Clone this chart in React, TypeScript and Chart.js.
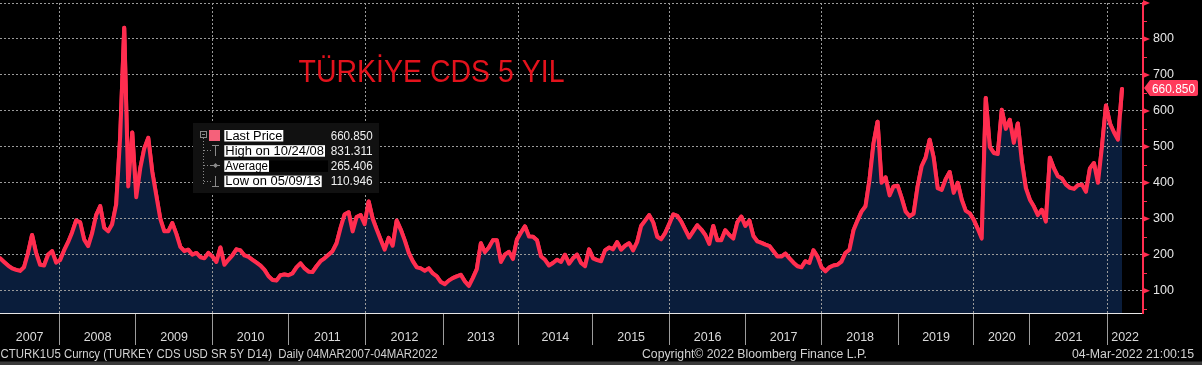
import React, { useEffect, useRef } from 'react';
import { Chart, registerables } from 'chart.js';

Chart.register(...registerables);

// TURKEY CDS USD SR 5Y — values at even steps along the time axis
const cdsValues: number[] = [
  190, 180, 170, 162, 158, 155, 165, 205, 255, 205,
  172, 170, 200, 210, 178, 185, 212, 235, 262, 295,
  290, 242, 224, 260, 310, 335, 275, 265, 285, 340,
  530, 831, 390, 540, 360, 440, 495, 525, 430, 365,
  300, 265, 265, 288, 258, 222, 210, 214, 200, 205,
  193, 190, 205, 195, 180, 220, 172, 186, 198, 215,
  212, 198, 194, 186, 178, 170, 158, 140, 130, 128,
  143, 145, 143, 148, 165, 176, 162, 153, 152, 168,
  182, 190, 200, 210, 232, 275, 312, 318, 265, 305,
  310, 285, 348, 300, 270, 242, 214, 247, 225, 295,
  270, 240, 205, 182, 165, 162, 155, 162, 148, 140,
  124, 118, 128, 135, 140, 144, 126, 113, 135, 160,
  232, 207, 220, 240, 240, 180, 200, 208, 188, 242,
  261, 279, 251, 250, 240, 195, 186, 170, 177, 186,
  180, 200, 175, 190, 200, 177, 168, 215, 190, 185,
  182, 212, 220, 215, 235, 214, 225, 232, 212, 235,
  280, 295, 310, 290, 250, 243, 260, 285, 312, 308,
  292, 270, 248, 265, 282, 270, 255, 230, 280, 240,
  240, 268, 255, 245, 290, 306, 280, 295, 252, 237,
  233, 228, 224, 210, 195, 195, 203, 190, 178, 168,
  165, 182, 177, 212, 195, 165, 154, 165, 170, 172,
  181, 205, 214, 268, 295, 320, 335, 409, 510, 570,
  400, 415, 365, 390, 392, 358, 320, 307, 314, 390,
  446, 470, 520, 470, 385, 380, 410, 430, 372, 400,
  353, 322, 315, 297, 272, 245, 636, 500, 483, 480,
  603, 550, 575, 511, 565, 460, 385, 353, 334, 310,
  325, 292, 470, 440, 418, 412, 395, 386, 383, 393,
  395, 375, 440, 455, 400, 500, 615, 565, 540, 520,
  660.85,
];

const yearLabels: string[] = [
  '2007', '2008', '2009', '2010', '2011', '2012', '2013', '2014',
  '2015', '2016', '2017', '2018', '2019', '2020', '2021', '2022',
];
// sample index at which each year from 2008 to 2022 begins
const yearStarts: number[] = [
  14.8, 33.9, 53.0, 72.1, 91.3, 110.6, 129.4, 147.8,
  167.2, 186.0, 205.1, 224.2, 243.0, 257.0, 276.3,
];
const xEnd = 285.24;

const yMin = 38;
const yMax = 900;
const yTickValues: number[] = [100, 200, 300, 400, 500, 600, 700, 800, 900];
const yTickLabels: string[] = ['100', '200', '300', '400', '500', '600', '700', '800', ''];
const yMinorValues: number[] = [50, 150, 250, 350, 450, 550, 650, 750, 850];

const legendLabels: string[] = ['Last Price', 'High on 10/24/08', 'Average', 'Low on 05/09/13'];
const legendValues: string[] = ['660.850', '831.311', '265.406', '110.946'];

const titleText = 'TÜRKİYE CDS 5 YIL';
const footerLeft = 'CTURK1U5 Curncy (TURKEY CDS USD SR 5Y D14)  Daily 04MAR2007-04MAR2022';
const footerMid = 'Copyright© 2022 Bloomberg Finance L.P.';
const footerRight = '04-Mar-2022 21:00:15';

const LINE = '#ff2d4f';
const FILL = '#0a1d3b';
const GRID = '#9a9a9a';
const FONT = '"Liberation Sans", Arial, sans-serif';

function fitText(
  ctx: CanvasRenderingContext2D,
  text: string,
  x: number,
  baseline: number,
  width: number,
  size: number,
  color: string,
) {
  ctx.save();
  ctx.font = `${size}px ${FONT}`;
  ctx.fillStyle = color;
  ctx.textBaseline = 'alphabetic';
  ctx.textAlign = 'left';
  const w = ctx.measureText(text).width || 1;
  ctx.translate(x, baseline);
  ctx.scale(width / w, 1);
  ctx.fillText(text, 0, 0);
  ctx.restore();
}

function noPadding(s: any) {
  s.paddingTop = 0;
  s.paddingBottom = 0;
  s.paddingLeft = 0;
  s.paddingRight = 0;
}

const backgroundPlugin = {
  id: 'bgPlugin',
  beforeDraw(chart: any) {
    const { ctx, width, height } = chart;
    ctx.save();
    ctx.fillStyle = '#000000';
    ctx.fillRect(0, 0, width, height);
    ctx.fillStyle = '#3a3a3a';
    ctx.fillRect(0, 361.5, width, height - 361.5);
    ctx.restore();
  },
};

const overlayPlugin = {
  id: 'overlayPlugin',
  afterDraw(chart: any) {
    const ctx: CanvasRenderingContext2D = chart.ctx;
    const yScale = chart.scales.y;
    const area = chart.chartArea;

    // red line again, above the dotted grid
    const meta = chart.getDatasetMeta(1);
    ctx.save();
    ctx.beginPath();
    ctx.rect(area.left, area.top - 4, area.right - area.left, area.bottom - area.top + 4);
    ctx.clip();
    meta.controller.draw();
    ctx.restore();

    // right axis markers
    const ax = area.right;
    ctx.save();
    ctx.fillStyle = LINE;
    ctx.strokeStyle = LINE;
    yTickValues.forEach((v) => {
      const py = yScale.getPixelForValue(v);
      ctx.beginPath();
      ctx.moveTo(ax, py - 3);
      ctx.lineTo(ax + 7, py);
      ctx.lineTo(ax, py + 3);
      ctx.closePath();
      ctx.fill();
    });
    ctx.lineWidth = 1;
    yMinorValues.forEach((v) => {
      const py = Math.round(yScale.getPixelForValue(v)) + 0.5;
      ctx.beginPath();
      ctx.moveTo(ax, py);
      ctx.lineTo(ax + 4, py);
      ctx.stroke();
    });
    ctx.restore();

    // last price tag
    const last = cdsValues[cdsValues.length - 1];
    const ty = yScale.getPixelForValue(last) - 1;
    ctx.save();
    ctx.fillStyle = '#ff3a5b';
    ctx.beginPath();
    ctx.moveTo(ax + 1, ty);
    ctx.lineTo(ax + 7, ty - 8);
    ctx.lineTo(1196, ty - 8);
    ctx.quadraticCurveTo(1198, ty - 8, 1198, ty - 6);
    ctx.lineTo(1198, ty + 6);
    ctx.quadraticCurveTo(1198, ty + 8, 1196, ty + 8);
    ctx.lineTo(ax + 7, ty + 8);
    ctx.closePath();
    ctx.fill();
    ctx.restore();
    fitText(ctx, last.toFixed(3), 1152, ty + 4.5, 43, 12.5, '#ffffff');

    // title
    fitText(ctx, titleText, 298.5, 81.7, 266, 31, '#e3121c');

    // legend box
    ctx.save();
    ctx.fillStyle = '#111111';
    ctx.fillRect(193, 123, 186, 70);
    const rowBase = [139.5, 154.7, 169.9, 185.1];
    const labelBoxW = [59, 100.7, 44.7, 97.4];
    ctx.fillStyle = '#000000';
    ctx.fillRect(269, rowBase[2] - 9.5, 59, 11.5);
    rowBase.forEach((b, r) => {
      ctx.fillStyle = '#ffffff';
      ctx.fillRect(224.3, b - 9.5, labelBoxW[r], 11.5);
    });
    ctx.fillStyle = '#f5617a';
    ctx.fillRect(209, 130, 11, 11);
    ctx.strokeStyle = '#8a8a8a';
    ctx.lineWidth = 1;
    ctx.strokeRect(200.5, 131.5, 6, 6);
    ctx.beginPath();
    ctx.moveTo(202, 134.5);
    ctx.lineTo(205, 134.5);
    ctx.stroke();
    ctx.setLineDash([1, 2]);
    ctx.beginPath();
    ctx.moveTo(203.5, 138);
    ctx.lineTo(203.5, 186);
    [150.5, 165.5, 181.5].forEach((cy) => {
      ctx.moveTo(204, cy);
      ctx.lineTo(211, cy);
    });
    ctx.stroke();
    ctx.setLineDash([]);
    ctx.beginPath();
    ctx.moveTo(212, 145.5);
    ctx.lineTo(219, 145.5);
    ctx.moveTo(215.5, 145.5);
    ctx.lineTo(215.5, 156);
    ctx.moveTo(211, 165.5);
    ctx.lineTo(220, 165.5);
    ctx.moveTo(215.5, 176);
    ctx.lineTo(215.5, 186.5);
    ctx.moveTo(212, 186.5);
    ctx.lineTo(219, 186.5);
    ctx.stroke();
    ctx.fillStyle = '#8a8a8a';
    ctx.beginPath();
    ctx.moveTo(215.5, 163);
    ctx.lineTo(218, 165.5);
    ctx.lineTo(215.5, 168);
    ctx.lineTo(213, 165.5);
    ctx.closePath();
    ctx.fill();
    ctx.restore();
    legendLabels.forEach((t, r) => {
      fitText(ctx, t, 225.3, rowBase[r], labelBoxW[r] - 2, 12.5, '#000000');
      fitText(ctx, legendValues[r], 330.7, rowBase[r], 42, 12.5, '#f0f0f0');
    });

    // footer
    fitText(ctx, footerLeft, 0.5, 358, 437, 12.5, '#d2d2d2');
    fitText(ctx, footerMid, 642, 358, 225, 12.5, '#d2d2d2');
    fitText(ctx, footerRight, 1072, 358, 122, 12.5, '#d2d2d2');
  },
};

export default function App() {
  const canvasRef = useRef<HTMLCanvasElement | null>(null);

  useEffect(() => {
    document.body.style.margin = '0';
    document.body.style.background = '#000';
    const canvas = canvasRef.current;
    if (!canvas) return;

    const points = cdsValues.map((v, i) => ({ x: i, y: v }));
    const yearMids = yearLabels.map((_, k) => {
      const a = k === 0 ? 0 : yearStarts[k - 1];
      const b = k < yearStarts.length ? yearStarts[k] : xEnd;
      return (a + b) / 2;
    });
    const tickFont = { family: FONT, size: 12.5 };

    const chart = new Chart(canvas, {
      type: 'line',
      data: {
        datasets: [
          {
            data: points,
            xAxisID: 'x',
            yAxisID: 'y',
            borderWidth: 0,
            borderColor: 'rgba(0,0,0,0)',
            backgroundColor: FILL,
            fill: 'start',
            pointRadius: 0,
            tension: 0,
          },
          {
            data: points,
            xAxisID: 'x',
            yAxisID: 'y',
            borderColor: LINE,
            borderWidth: 4,
            borderJoinStyle: 'round',
            borderCapStyle: 'round',
            fill: false,
            pointRadius: 0,
            tension: 0,
          },
        ],
      },
      options: {
        responsive: false,
        animation: false,
        devicePixelRatio: 1,
        events: [],
        layout: { padding: { top: 3, left: 0, right: 0, bottom: 0 } },
        plugins: { legend: { display: false }, tooltip: { enabled: false } },
        scales: {
          x: {
            type: 'linear',
            position: 'bottom',
            min: 0,
            max: xEnd,
            weight: 0,
            afterBuildTicks: (s: any) => {
              s.ticks = yearStarts.map((v) => ({ value: v }));
            },
            afterFit: (s: any) => {
              s.height = 0;
              noPadding(s);
            },
            ticks: { display: false, autoSkip: false },
            grid: {
              z: 1,
              color: (c: any) => ((2008 + c.index) % 2 === 0 ? GRID : 'rgba(0,0,0,0)'),
              lineWidth: 1,
              drawTicks: true,
              tickLength: 32,
              tickColor: '#9c9c9c',
              tickWidth: 1,
            },
            border: { display: true, color: '#e6e6e6', width: 1, dash: [2, 2], z: 2 },
          },
          x2: {
            type: 'linear',
            position: 'bottom',
            min: 0,
            max: xEnd,
            weight: 1,
            afterBuildTicks: (s: any) => {
              s.ticks = yearMids.map((v) => ({ value: v }));
            },
            afterFit: (s: any) => {
              s.height = 52;
              noPadding(s);
            },
            ticks: {
              autoSkip: false,
              maxRotation: 0,
              minRotation: 0,
              padding: 17,
              color: '#dadada',
              font: tickFont,
              callback: (_v: any, i: number) => yearLabels[i],
            },
            grid: { display: false, drawTicks: false },
            border: { display: false },
          },
          y: {
            type: 'linear',
            position: 'right',
            min: yMin,
            max: yMax,
            afterBuildTicks: (s: any) => {
              s.ticks = yTickValues.map((v) => ({ value: v }));
            },
            afterFit: (s: any) => {
              s.width = 59;
              noPadding(s);
            },
            ticks: {
              padding: 10,
              color: '#e6e6e6',
              font: tickFont,
              callback: (_v: any, i: number) => yTickLabels[i],
            },
            grid: { z: 1, color: GRID, lineWidth: 1, drawTicks: false },
            border: { display: true, color: LINE, width: 2, dash: [2, 2], z: 2 },
          },
        },
      },
      plugins: [backgroundPlugin, overlayPlugin],
    } as any);

    return () => chart.destroy();
  }, []);

  return (
    <div style={{ width: 1202, height: 365, background: '#000' }}>
      <canvas ref={canvasRef} width={1202} height={365} style={{ display: 'block' }} />
    </div>
  );
}
